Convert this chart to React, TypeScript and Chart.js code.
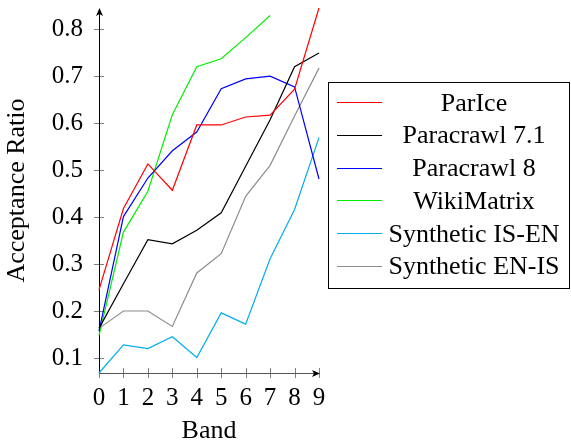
import React, { useEffect, useRef } from "react";
import { Chart, registerables } from "chart.js";

Chart.register(...registerables);

const bands = [0, 1, 2, 3, 4, 5, 6, 7, 8, 9];
const parIce = [0.245, 0.418, 0.513, 0.457, 0.596, 0.596, 0.613, 0.617, 0.672, 0.845];
const paracrawl71 = [0.163, 0.258, 0.352, 0.343, 0.372, 0.409, 0.508, 0.607, 0.72, 0.749];
const paracrawl8 = [0.157, 0.401, 0.483, 0.541, 0.581, 0.673, 0.694, 0.7, 0.677, 0.481];
const wikiMatrix = [0.148, 0.368, 0.455, 0.618, 0.72, 0.737, 0.782, 0.829, null, null];
const syntheticIsEn = [0.068, 0.128, 0.12, 0.145, 0.101, 0.196, 0.172, 0.311, 0.416, 0.569];
const syntheticEnIs = [0.163, 0.2, 0.2, 0.167, 0.281, 0.322, 0.444, 0.51, 0.615, 0.717];
const yTickValues = [0.1, 0.2, 0.3, 0.4, 0.5, 0.6, 0.7, 0.8];

const seriesNames = ["ParIce", "Paracrawl 7.1", "Paracrawl 8", "WikiMatrix", "Synthetic IS-EN", "Synthetic EN-IS"];
const seriesValues = [parIce, paracrawl71, paracrawl8, wikiMatrix, syntheticIsEn, syntheticEnIs];
const seriesColors = ["#ff0000", "#000000", "#0000ff", "#00ee00", "#00aeef", "#8c8c8c"];

const FONT = "'Liberation Serif', 'Times New Roman', serif";

const axesPlugin = {
  id: "pgfAxes",
  beforeDatasetsDraw(chart: any) {
    const { ctx, chartArea, scales } = chart;
    const xs = scales.x;
    const ys = scales.y;
    ctx.save();
    ctx.strokeStyle = "#808080";
    ctx.lineWidth = 1;
    ys.ticks.forEach((t: any) => {
      const y = Math.round(ys.getPixelForValue(t.value)) + 0.5;
      ctx.beginPath();
      ctx.moveTo(chartArea.left - 5, y);
      ctx.lineTo(chartArea.left + 5, y);
      ctx.stroke();
    });
    xs.ticks.forEach((t: any) => {
      const x = Math.round(xs.getPixelForValue(t.value)) + 0.5;
      ctx.beginPath();
      ctx.moveTo(x, chartArea.bottom - 5);
      ctx.lineTo(x, chartArea.bottom + 5);
      ctx.stroke();
    });
    const ax = Math.round(chartArea.left) + 0.5;
    const ay = Math.round(chartArea.bottom) + 0.5;
    ctx.strokeStyle = "#000";
    ctx.beginPath();
    ctx.moveTo(ax, ay);
    ctx.lineTo(ax, chartArea.top + 3);
    ctx.stroke();
    ctx.fillStyle = "#000";
    ctx.beginPath();
    ctx.moveTo(ax, chartArea.top);
    ctx.lineTo(ax - 3.5, chartArea.top + 8);
    ctx.lineTo(ax, chartArea.top + 6);
    ctx.lineTo(ax + 3.5, chartArea.top + 8);
    ctx.closePath();
    ctx.fill();
    ctx.strokeStyle = "#555";
    ctx.beginPath();
    ctx.moveTo(ax, ay);
    ctx.lineTo(chartArea.right - 3, ay);
    ctx.stroke();
    ctx.fillStyle = "#000";
    ctx.beginPath();
    ctx.moveTo(chartArea.right + 1, ay);
    ctx.lineTo(chartArea.right - 7, ay - 3.5);
    ctx.lineTo(chartArea.right - 5, ay);
    ctx.lineTo(chartArea.right - 7, ay + 3.5);
    ctx.closePath();
    ctx.fill();
    ctx.restore();
  },
};

const legendPlugin = {
  id: "boxLegend",
  afterDraw(chart: any) {
    const ctx = chart.ctx;
    ctx.save();
    ctx.strokeStyle = "#000";
    ctx.lineWidth = 1;
    ctx.strokeRect(328.5, 82.5, 241, 206);
    ctx.font = `26px ${FONT}`;
    ctx.textAlign = "center";
    ctx.textBaseline = "alphabetic";
    chart.data.datasets.forEach((ds: any, i: number) => {
      const base = 110.7 + i * 32.7;
      const ly = Math.round(base - 8.4) + 0.5;
      ctx.strokeStyle = ds.borderColor;
      ctx.lineWidth = 1.2;
      ctx.beginPath();
      ctx.moveTo(337, ly);
      ctx.lineTo(382, ly);
      ctx.stroke();
      ctx.fillStyle = "#000";
      ctx.fillText(ds.label, 474, base);
    });
    ctx.restore();
  },
};

export default function App() {
  const ref = useRef<HTMLCanvasElement | null>(null);
  useEffect(() => {
    document.body.style.margin = "0";
    const canvas = ref.current;
    if (!canvas) return;
    const chart = new Chart(canvas, {
      type: "line",
      data: {
        datasets: seriesNames.map((name, i) => ({
          label: name,
          data: bands
            .map((b, j) => ({ x: b, y: seriesValues[i][j] }))
            .filter((p) => p.y !== null),
          borderColor: seriesColors[i],
          backgroundColor: seriesColors[i],
          borderWidth: 1.2,
          pointRadius: 0,
          tension: 0,
          fill: false,
          clip: false,
        })),
      },
      options: {
        animation: false,
        responsive: false,
        events: [],
        layout: { padding: { left: 0, right: 252, top: 8, bottom: 0 } },
        plugins: { legend: { display: false }, tooltip: { enabled: false } },
        scales: {
          x: {
            type: "linear",
            min: 0,
            max: 9,
            grid: { display: false, drawTicks: false },
            border: { display: false },
            ticks: {
              stepSize: 1,
              padding: 10,
              color: "#000",
              font: { family: FONT, size: 25 },
            },
            title: {
              display: true,
              text: "Band",
              color: "#000",
              font: { family: FONT, size: 26 },
              padding: { top: 0, bottom: 0 },
            },
            afterFit(scale: any) {
              scale.height = 74;
              scale.paddingLeft = 0;
              scale.paddingRight = 0;
            },
          },
          y: {
            type: "linear",
            min: 0.068,
            max: 0.845,
            grid: { display: false, drawTicks: false },
            border: { display: false },
            afterBuildTicks(scale: any) {
              scale.ticks = yTickValues.map((v) => ({ value: v }));
            },
            ticks: {
              padding: 16,
              color: "#000",
              font: { family: FONT, size: 25 },
              callback: (v: any) => Number(v).toFixed(1),
            },
            title: {
              display: true,
              text: "Acceptance Ratio",
              color: "#000",
              font: { family: FONT, size: 26 },
              padding: { top: 2, bottom: 0 },
            },
            afterFit(scale: any) {
              scale.width = 99;
              scale.paddingTop = 0;
              scale.paddingBottom = 0;
            },
          },
        },
      },
      plugins: [axesPlugin, legendPlugin],
    });
    return () => chart.destroy();
  }, []);
  return (
    <canvas ref={ref} width={571} height={447} style={{ display: "block", width: 571, height: 447 }} />
  );
}
